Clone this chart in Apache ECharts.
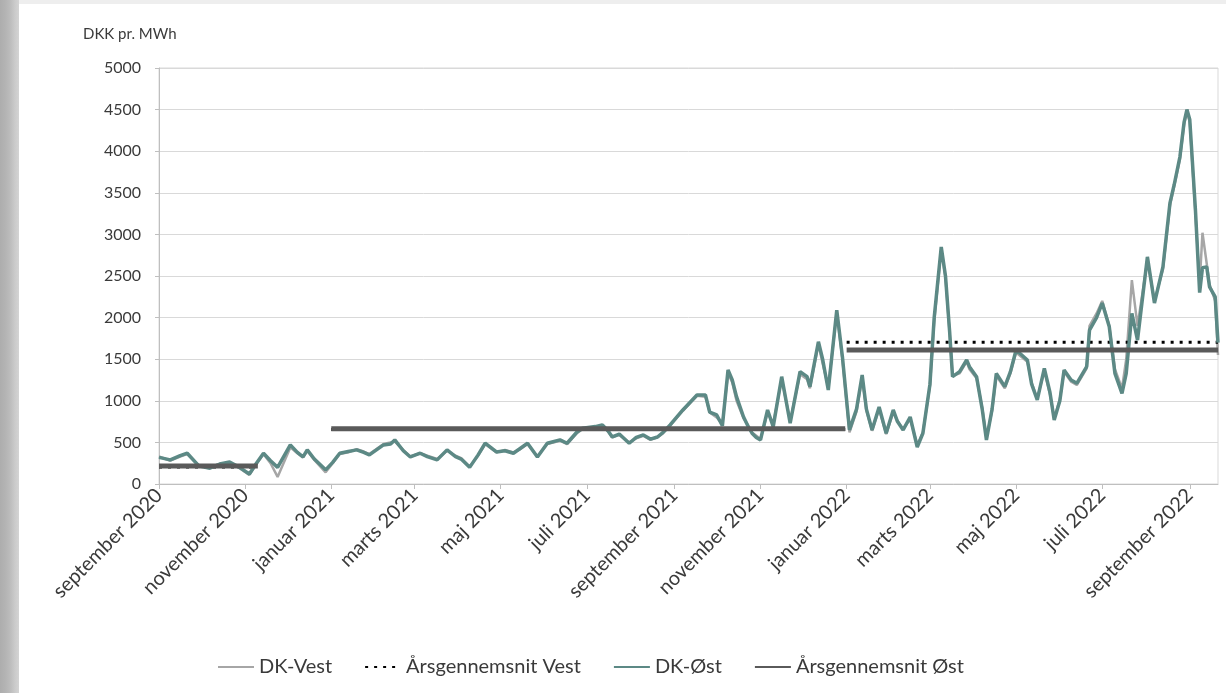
<!DOCTYPE html>
<html>
<head>
<meta charset="utf-8">
<script src="https://cdn.jsdelivr.net/npm/echarts@6/dist/echarts.min.js"></script>
<style>
  html, body { margin: 0; padding: 0; }
  body {
    width: 1226px; height: 693px; overflow: hidden; position: relative;
    background: linear-gradient(to right, #adadad 0px, #b3b3b3 5px, #bcbcbc 10px, #cbcbcb 15px, #d4d4d4 19px, #ffffff 19px);
  }
  #topstrip { position: absolute; left: 19px; top: 0; width: 1207px; height: 4px; background: #eeeeee; }
  #chart { position: absolute; left: 0; top: 0; width: 1226px; height: 693px; }
</style>
</head>
<body>
<div id="topstrip"></div>
<div id="chart"></div>
<script>
// ---------- DATA ----------
const axisStart = '2020-09-01';
const axisEnd = '2022-09-21';
const monthNames = ['januar','februar','marts','april','maj','juni','juli','august','september','oktober','november','december'];

const dates = [
'2020-09-01','2020-09-09','2020-09-16','2020-09-21','2020-09-29','2020-10-07','2020-10-14','2020-10-21','2020-10-28','2020-11-04',
'2020-11-09','2020-11-14','2020-11-19','2020-11-24','2020-12-03','2020-12-08','2020-12-12','2020-12-15','2020-12-20','2020-12-28',
'2021-01-02','2021-01-07','2021-01-13','2021-01-19','2021-01-24','2021-01-28','2021-02-07','2021-02-12','2021-02-15','2021-02-21',
'2021-02-26','2021-03-05','2021-03-10','2021-03-17','2021-03-24','2021-03-30','2021-04-03','2021-04-09','2021-04-15','2021-04-20',
'2021-04-28','2021-05-04','2021-05-10','2021-05-15','2021-05-20','2021-05-27','2021-06-03','2021-06-12','2021-06-17','2021-06-24',
'2021-06-28','2021-07-07','2021-07-12','2021-07-16','2021-07-19','2021-07-24','2021-07-31','2021-08-05','2021-08-10','2021-08-15',
'2021-08-20','2021-08-24','2021-08-29','2021-09-07','2021-09-17','2021-09-23','2021-09-26','2021-10-01','2021-10-05','2021-10-09',
'2021-10-12','2021-10-15','2021-10-20','2021-10-23','2021-10-26','2021-10-29','2021-11-01','2021-11-06','2021-11-10','2021-11-16',
'2021-11-22','2021-11-29','2021-12-04','2021-12-06','2021-12-12','2021-12-15','2021-12-19','2021-12-25','2021-12-29',
'2022-01-03','2022-01-08','2022-01-12','2022-01-15','2022-01-19','2022-01-24','2022-01-29','2022-02-03','2022-02-06','2022-02-10',
'2022-02-15','2022-02-20','2022-02-24','2022-03-01','2022-03-04','2022-03-09','2022-03-12','2022-03-15','2022-03-17','2022-03-22',
'2022-03-27','2022-03-29','2022-04-03','2022-04-07','2022-04-10','2022-04-14','2022-04-17','2022-04-23','2022-04-27','2022-05-01',
'2022-05-09','2022-05-12','2022-05-16','2022-05-21','2022-05-25','2022-05-28','2022-06-01','2022-06-04','2022-06-09','2022-06-13',
'2022-06-20','2022-06-22','2022-06-27','2022-07-01','2022-07-06','2022-07-10','2022-07-15','2022-07-18','2022-07-22','2022-07-26',
'2022-07-30','2022-08-02','2022-08-07','2022-08-13','2022-08-18','2022-08-21','2022-08-25','2022-08-28','2022-08-30','2022-09-01',
'2022-09-05','2022-09-08','2022-09-10','2022-09-13','2022-09-15','2022-09-19','2022-09-21'
];

const dkOst = [
320,290,340,370,220,190,240,265,200,120,250,370,280,200,470,380,325,410,300,170,
260,370,390,410,380,350,470,480,530,400,325,370,330,290,410,330,300,200,350,490,
385,400,370,430,490,325,490,530,490,625,670,690,710,640,565,600,490,560,590,540,
565,620,710,890,1070,1070,865,830,700,1370,1250,1050,805,700,610,560,530,890,690,1290,
730,1350,1290,1170,1710,1500,1130,2090,1530,
650,900,1310,900,650,925,610,890,750,650,805,445,610,1200,2000,2850,2500,1815,1290,1350,
1490,1410,1290,900,530,900,1330,1170,1350,1610,1490,1200,1010,1390,1100,770,1000,1370,1250,1210,
1410,1850,2000,2175,1890,1330,1090,1330,2050,1730,2300,2730,2175,2610,3380,3600,3930,4350,4500,4380,
3300,2300,2600,2610,2370,2250,1700
];

const dkVest = [
330,280,330,360,230,200,240,255,190,110,240,360,250,85,440,370,320,400,290,140,
250,360,380,420,390,360,480,500,510,410,330,370,340,300,400,340,310,210,340,480,
380,410,380,420,480,330,480,520,480,610,660,680,700,630,560,590,500,550,580,530,
560,610,700,880,1060,1050,860,800,720,1330,1220,1000,790,710,620,580,540,860,720,1260,
760,1320,1260,1150,1680,1450,1160,2060,1500,
620,870,1280,880,640,900,600,860,760,660,780,470,620,1180,1950,2820,2480,1800,1300,1330,
1470,1380,1270,920,560,880,1300,1150,1330,1580,1470,1220,1030,1360,1080,790,1020,1350,1230,1190,
1390,1900,2050,2200,1900,1380,1150,1500,2450,1900,2350,2700,2200,2580,3350,3580,3900,4320,4480,4350,
3250,2400,3020,2650,2400,2200,1550
];

// yearly averages (segments)
const avgStart = ['2020-09-01','2021-01-01','2022-01-01'];
const avgEnd   = ['2020-11-10','2021-12-31','2022-09-21'];
const avgOst   = [215, 665, 1610];
const avgVest  = [205, 655, 1705];

const yTicks = { min: 0, max: 5000, interval: 500 };

// ---------- BUILD ----------
function pad(n){ return (n < 10 ? '0' : '') + n; }
const categories = [];
{
  const s = new Date(axisStart + 'T00:00:00Z');
  const e = new Date(axisEnd + 'T00:00:00Z');
  for (let d = s; d <= e; d = new Date(d.getTime() + 86400000)) {
    categories.push(d.getUTCFullYear() + '-' + pad(d.getUTCMonth() + 1) + '-' + pad(d.getUTCDate()));
  }
}
function isLabelDay(value) {
  const m = +value.slice(5, 7);
  return value.slice(8) === '01' && (m % 2 === 1);
}
function segData(vals) {
  const out = [];
  for (let i = 0; i < vals.length; i++) {
    if (i > 0) out.push([avgStart[i], '-']);
    out.push([avgStart[i], vals[i]]);
    out.push([avgEnd[i], vals[i]]);
  }
  return out;
}

const FONT = 'Lato, "Open Sans", sans-serif';
const TEXT = '#3a3a3a';

const chart = echarts.init(document.getElementById('chart'), null, { renderer: 'canvas' });
chart.setOption({
  animation: false,
  backgroundColor: 'transparent',
  textStyle: { fontFamily: FONT },
  grid: { left: 159, right: 8, top: 68, bottom: 209, show: true, borderColor: '#d9d9d9', borderWidth: 1 },
  legend: {
    left: 212, top: 652,
    itemWidth: 36, itemHeight: 14, itemGap: 32,
    itemStyle: { opacity: 0 },
    textStyle: { fontSize: 20, color: TEXT, fontFamily: FONT },
    data: ['DK-Vest', 'Årsgennemsnit Vest', 'DK-Øst', 'Årsgennemsnit Øst']
  },
  xAxis: {
    type: 'category',
    data: categories,
    boundaryGap: false,
    axisLine: { lineStyle: { color: '#bfbfbf', width: 1 } },
    axisTick: { interval: (i, v) => isLabelDay(v), length: 5, lineStyle: { color: '#bfbfbf' } },
    axisLabel: {
      interval: (i, v) => isLabelDay(v),
      rotate: 45,
      margin: 8,
      fontSize: 20,
      color: TEXT,
      fontFamily: FONT,
      formatter: v => monthNames[+v.slice(5, 7) - 1] + ' ' + v.slice(0, 4)
    },
    splitLine: { show: false }
  },
  yAxis: {
    type: 'value',
    min: yTicks.min, max: yTicks.max, interval: yTicks.interval,
    name: 'DKK pr. MWh',
    nameLocation: 'end',
    nameGap: 26,
    nameTextStyle: { fontSize: 15, color: TEXT, align: 'left', padding: [0, 0, 0, -76], fontFamily: FONT },
    axisLine: { show: true, lineStyle: { color: '#bfbfbf' } },
    axisTick: { show: true, length: 4, lineStyle: { color: '#bfbfbf' } },
    axisLabel: { fontSize: 16, color: TEXT, margin: 18, fontFamily: FONT, formatter: v => String(v) },
    splitLine: { lineStyle: { color: '#d9d9d9', width: 1 } }
  },
  series: [
    {
      name: 'DK-Vest', type: 'line', symbol: 'none',
      data: dates.map((d, i) => [d, dkVest[i]]),
      lineStyle: { color: '#a6a6a6', width: 2.5 },
      itemStyle: { color: '#a6a6a6' }
    },
    {
      name: 'Årsgennemsnit Vest', type: 'line', symbol: 'none',
      data: segData(avgVest),
      connectNulls: false,
      lineStyle: { color: '#000000', width: 3, type: [3, 6] },
      itemStyle: { color: '#000000' }
    },
    {
      name: 'DK-Øst', type: 'line', symbol: 'none',
      data: dates.map((d, i) => [d, dkOst[i]]),
      lineStyle: { color: '#5c8985', width: 3.5 },
      itemStyle: { color: '#5c8985' }
    },
    {
      name: 'Årsgennemsnit Øst', type: 'line', symbol: 'none',
      data: segData(avgOst),
      connectNulls: false,
      lineStyle: { color: '#5a5a5a', width: 5 },
      itemStyle: { color: '#5a5a5a' }
    }
  ]
});
</script>
</body>
</html>
